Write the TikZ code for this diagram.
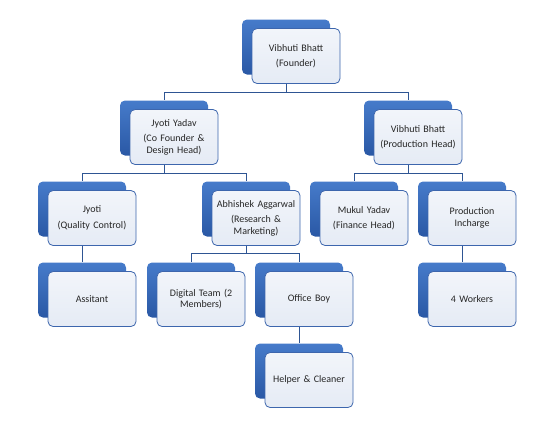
\documentclass[tikz,border=0pt]{standalone}
\usepackage{fontspec}
\setmainfont{Carlito}
\usepackage{tikz}
\usetikzlibrary{positioning,calc}
\definecolor{backblue}{HTML}{467BCA}
\definecolor{backdark}{HTML}{2A58A5}
\definecolor{frameblue}{HTML}{3D66AD}
\definecolor{linkblue}{HTML}{2E5593}
\definecolor{paleblue}{HTML}{E5EBF5}

\begin{document}
\begin{tikzpicture}[x=1pt, y=-1pt,
  back/.style={rectangle, rounded corners=5pt, draw=none, top color=backblue, bottom color=backdark, minimum width=88pt, minimum height=55pt, inner sep=0pt},
  front/.style={rectangle, rounded corners=5pt, draw=frameblue, line width=0.8pt, top color=white!50!paleblue, bottom color=paleblue, minimum width=88pt, minimum height=55pt, inner sep=2pt, align=center, text width=84pt, text=black!85, font=\fontsize{10}{11.5}\selectfont},
  link/.style={linkblue, line width=0.9pt}
]
\useasboundingbox (0,0) rectangle (548,432);

% back boxes
\node[back] (founderbk) at (286,47) {};
\node[back] (cofounderbk) at (164,128) {};
\node[back] (prodheadbk) at (408,128) {};
\node[back] (qualitybk) at (82,209) {};
\node[back] (researchbk) at (246,209) {};
\node[back] (financebk) at (354,209) {};
\node[back] (inchargebk) at (462,209) {};
\node[back] (assistantbk) at (82,290) {};
\node[back] (digitalbk) at (191,290) {};
\node[back] (officeboybk) at (299,290) {};
\node[back] (workersbk) at (462,290) {};
\node[back] (helperbk) at (299,371) {};

% front boxes
\node[front] (founder) at ($(founderbk)+(10,9)$) {Vibhuti Bhatt\\[4pt](Founder)};
\node[front] (cofounder) at ($(cofounderbk)+(10,9)$) {Jyoti Yadav\\[4pt](Co Founder \&\\Design Head)};
\node[front] (prodhead) at ($(prodheadbk)+(10,9)$) {Vibhuti Bhatt\\[4pt](Production Head)};
\node[front] (quality) at ($(qualitybk)+(10,9)$) {Jyoti\\[4pt](Quality Control)};
\node[front] (research) at ($(researchbk)+(10,9)$) {Abhishek Aggarwal\\[4pt](Research \&\\Marketing)};
\node[front] (finance) at ($(financebk)+(10,9)$) {Mukul Yadav\\[4pt](Finance Head)};
\node[front] (incharge) at ($(inchargebk)+(10,9)$) {Production\\Incharge};
\node[front] (assistant) at ($(assistantbk)+(10,9)$) {Assitant};
\node[front] (digital) at ($(digitalbk)+(10,9)$) {Digital Team (2\\Members)};
\node[front] (officeboy) at ($(officeboybk)+(10,9)$) {Office Boy};
\node[front] (workers) at ($(workersbk)+(10,9)$) {4 Workers};
\node[front] (helper) at ($(helperbk)+(10,9)$) {Helper \& Cleaner};

% connectors
\draw[link] (founderbk |- founder.south) -- ++(0,8.5) -| (cofounderbk.north);
\draw[link] (founderbk |- founder.south) -- ++(0,8.5) -| (prodheadbk.north);
\draw[link] (cofounderbk |- cofounder.south) -- ++(0,8.5) -| (qualitybk.north);
\draw[link] (cofounderbk |- cofounder.south) -- ++(0,8.5) -| (researchbk.north);
\draw[link] (prodheadbk |- prodhead.south) -- ++(0,8.5) -| (financebk.north);
\draw[link] (prodheadbk |- prodhead.south) -- ++(0,8.5) -| (inchargebk.north);
\draw[link] (qualitybk |- quality.south) -- (assistantbk.north);
\draw[link] (researchbk |- research.south) -- ++(0,8) -| (digitalbk.north);
\draw[link] (researchbk |- research.south) -- ++(0,8) -| (officeboybk.north);
\draw[link] (inchargebk |- incharge.south) -- (workersbk.north);
\draw[link] (officeboybk |- officeboy.south) -- (helperbk.north);
\end{tikzpicture}
\end{document}
